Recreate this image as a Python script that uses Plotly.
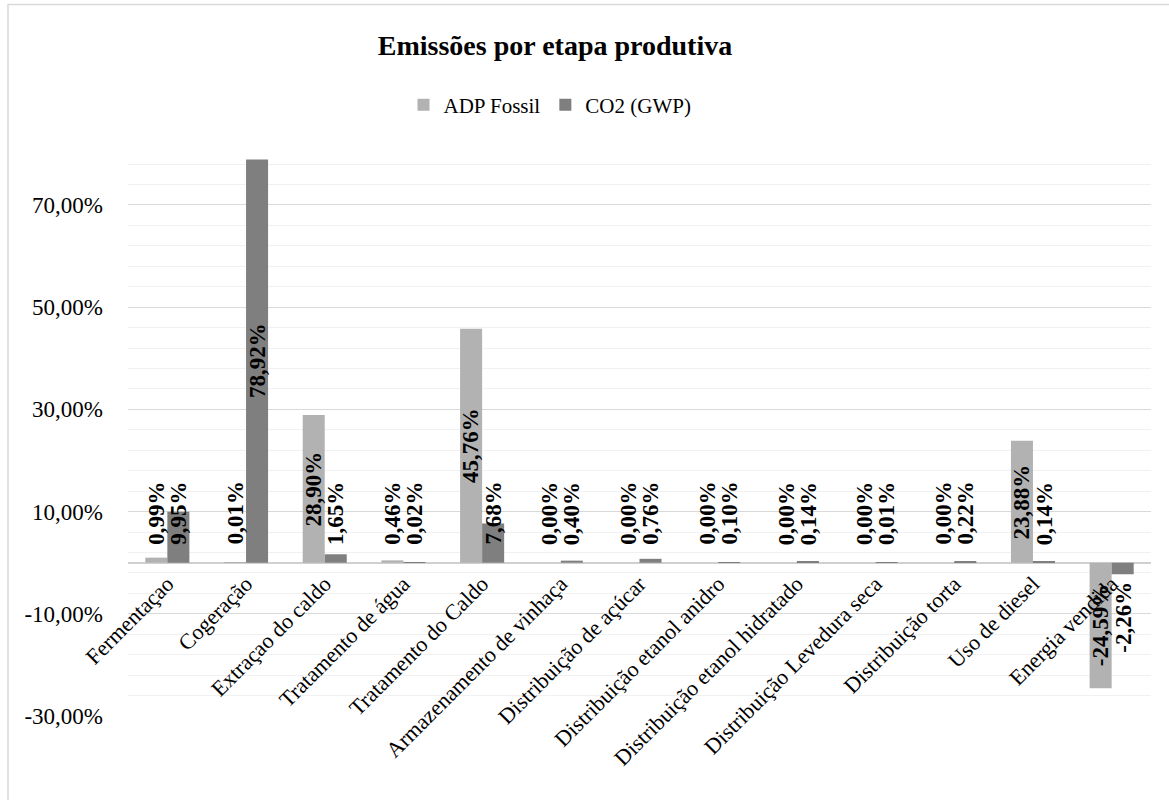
import plotly.graph_objects as go

# Production stages and their share of emissions (%)
stages = [
    "Fermentaçao", "Cogeração", "Extraçao do caldo", "Tratamento de água",
    "Tratamento do Caldo", "Armazenamento de vinhaça", "Distribuição de açúcar",
    "Distribuição etanol anidro", "Distribuição etanol hidratado",
    "Distribuição Levedura seca", "Distribuição torta", "Uso de diesel",
    "Energia vendida",
]
adp_fossil = [0.99, 0.01, 28.90, 0.46, 45.76, 0.00, 0.00, 0.00, 0.00, 0.00, 0.00, 23.88, -24.59]
co2_gwp = [9.95, 78.92, 1.65, 0.02, 7.68, 0.40, 0.76, 0.10, 0.14, 0.01, 0.22, 0.14, -2.26]

y_tick_vals = [-30, -10, 10, 30, 50, 70]
y_tick_text = ["-30,00%", "-10,00%", "10,00%", "30,00%", "50,00%", "70,00%"]

FONT = "Liberation Serif, Times New Roman, serif"
C_ADP = "#b2b2b2"
C_CO2 = "#7f7f7f"
Y_MIN, Y_MAX = -30, 79
BARGAP = 0.44

W, H = 1169, 800
ML, MR, MT, MB = 128, 18, 159, 84
PW, PH = W - ML - MR, H - MT - MB

fig = go.Figure()
fig.add_trace(go.Bar(name="ADP Fossil", x=stages, y=adp_fossil,
                     marker=dict(color=C_ADP, line=dict(width=0))))
fig.add_trace(go.Bar(name="CO2 (GWP)", x=stages, y=co2_gwp,
                     marker=dict(color=C_CO2, line=dict(width=0))))


def fmt(v):
    return f"{v:.2f}%".replace(".", ",")


# Vertical value labels: centred in tall bars, parked next to the axis for short ones
half = (1 - BARGAP) / 4
annotations = []
for series, off in ((adp_fossil, -half), (co2_gwp, half)):
    for i, v in enumerate(series):
        if abs(v) > 15:
            y, anchor = v / 2, "middle"
        elif v >= 0:
            y, anchor = 3.3, "bottom"
        else:
            y, anchor = -3.5, "top"
        annotations.append(dict(
            x=i + off, y=y, xref="x", yref="y", text=f"<b>{fmt(v)}</b>",
            textangle=-90, showarrow=False, xanchor="center", yanchor=anchor,
            font=dict(family=FONT, size=23, color="#000000"), borderpad=0,
        ))

# category labels hang from the zero line rather than the bottom of the plot
zero_pos = (0 - Y_MIN) / (Y_MAX - Y_MIN)
label_pos = zero_pos - 3 / PH

fig.update_layout(
    width=W, height=H,
    margin=dict(l=ML, r=MR, t=MT, b=MB, autoexpand=False),
    paper_bgcolor="white", plot_bgcolor="white",
    font=dict(family=FONT, size=22, color="#000000"),
    title=dict(text="<b>Emissões por etapa produtiva</b>", xref="container", yref="container",
               x=555 / W, y=1 - 45 / H, xanchor="center", yanchor="middle",
               font=dict(family=FONT, size=28, color="#000000")),
    barmode="group", bargap=BARGAP, bargroupgap=0,
    showlegend=True,
    legend=dict(orientation="h", x=(550 - ML) / PW, y=(H - MB - 105) / PH,
                xanchor="center", yanchor="middle", itemwidth=30,
                font=dict(family=FONT, size=21, color="#000000"),
                bgcolor="rgba(0,0,0,0)", traceorder="normal"),
    xaxis=dict(type="category", anchor="free", position=label_pos, showline=False,
               showgrid=False, ticks="", tickangle=-45, automargin=False,
               tickfont=dict(family=FONT, size=22, color="#000000")),
    yaxis=dict(range=[Y_MIN, Y_MAX], tickmode="array", tickvals=y_tick_vals,
               ticktext=y_tick_text, showgrid=True, gridcolor="#d9d9d9", gridwidth=1.3,
               zeroline=True, zerolinecolor="#d0d0d0", zerolinewidth=1.5,
               showline=False, ticks="", ticklabelstandoff=24, automargin=False,
               tickfont=dict(family=FONT, size=23, color="#000000"),
               minor=dict(tickmode="linear", tick0=Y_MIN, dtick=4, showgrid=True,
                          gridcolor="#f1f1f1", gridwidth=1.3, ticks="")),
    annotations=annotations,
)

# Light frame around the chart area
fig.add_shape(type="rect", xref="paper", yref="paper",
              x0=(8 - ML) / PW, x1=(W + 10 - ML) / PW,
              y0=(H - MB - (H + 10)) / PH, y1=(H - MB - 4.5) / PH,
              line=dict(color="#d9d9d9", width=1.5), fillcolor="rgba(0,0,0,0)", layer="below")

fig.write_html("out.html")
